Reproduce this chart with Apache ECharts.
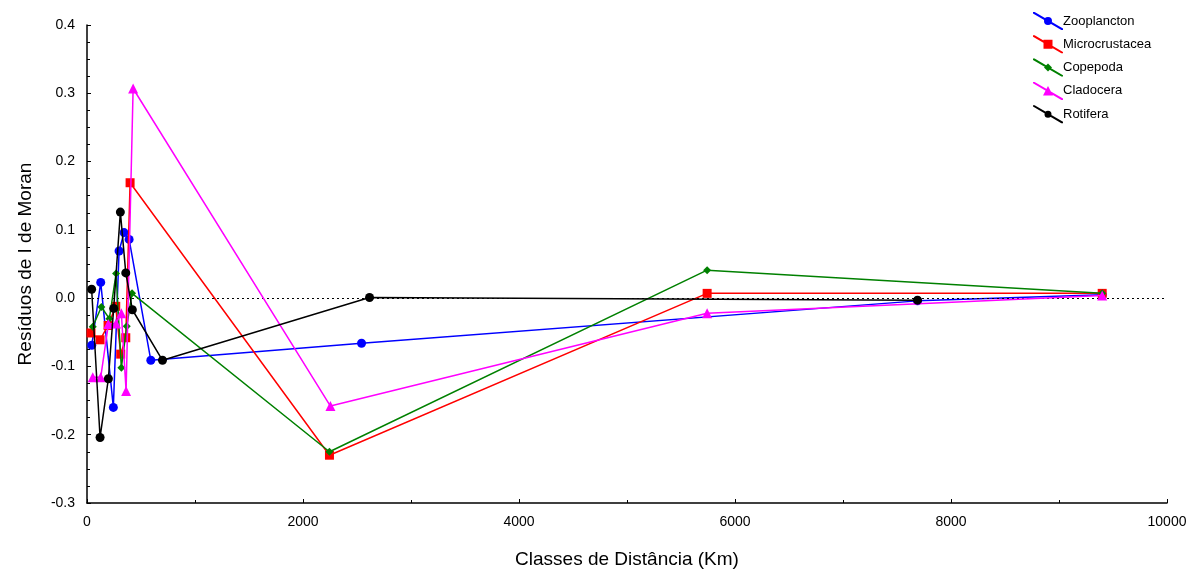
<!DOCTYPE html>
<html>
<head>
<meta charset="utf-8">
<script src="https://cdn.jsdelivr.net/npm/echarts@6/dist/echarts.min.js"></script>
<style>
html,body{margin:0;padding:0;background:#fff;}
#c{width:1197px;height:569px;}
</style>
</head>
<body>
<div id="c"></div>
<script>
// Distance classes (Km) and Moran's I residuals per group
const zooX = [44, 127, 244, 297, 343, 390, 591, 2542, 7690, 9400];
const zooY = [-0.069, 0.023, -0.160, 0.069, 0.096, 0.086, -0.091, -0.066, -0.004, 0.005];

const micX = [37, 121, 195, 266, 312, 359, 399, 2245, 5742, 9400];
const micY = [-0.051, -0.061, -0.040, -0.012, -0.082, -0.058, 0.169, -0.230, 0.007, 0.007];

const copX = [53, 133, 207, 269, 318, 368, 417, 2245, 5742, 9400];
const copY = [-0.042, -0.013, -0.030, 0.036, -0.102, -0.041, 0.007, -0.225, 0.041, 0.007];

const claX = [53, 127, 198, 269, 318, 362, 427, 2254, 5742, 9400];
const claY = [-0.116, -0.116, -0.038, -0.037, -0.022, -0.136, 0.307, -0.158, -0.022, 0.004];

const rotX = [43, 121, 198, 247, 309, 359, 420, 699, 2616, 7690];
const rotY = [0.013, -0.204, -0.118, -0.015, 0.126, 0.037, -0.017, -0.091, 0.001, -0.003];

const seriesNames = ['Zooplancton', 'Microcrustacea', 'Copepoda', 'Cladocera', 'Rotifera'];
const seriesColors = ['#0000FF', '#FF0000', '#008000', '#FF00FF', '#000000'];
const xTitle = 'Classes de Distância (Km)';
const yTitle = 'Resíduos de I de Moran';

const pair = (xs, ys) => xs.map((x, i) => [x, ys[i]]);

const band = 'M0,0 L1.6,0 L30,16.6 L30,18 L28.4,18 L0,1.4 Z ';
const icons = [
  'path://' + band + 'M19,9 A4,4 0 1 1 11,9 A4,4 0 1 1 19,9 Z',
  'path://' + band + 'M10.5,4.5 L19.5,4.5 L19.5,13.5 L10.5,13.5 Z',
  'path://' + band + 'M15,5 L19,9 L15,13 L11,9 Z',
  'path://' + band + 'M15,4 L20,13.5 L10,13.5 Z',
  'path://' + band + 'M18.5,9 A3.5,3.5 0 1 1 11.5,9 A3.5,3.5 0 1 1 18.5,9 Z'
];

const dataSets = [pair(zooX, zooY), pair(micX, micY), pair(copX, copY), pair(claX, claY), pair(rotX, rotY)];
const symbols = ['circle', 'rect', 'diamond', 'triangle', 'circle'];
const symbolSizes = [9, 9, 8, 10, 9];

const series = dataSets.map((d, i) => ({
  name: seriesNames[i],
  type: 'line',
  data: d,
  symbol: symbols[i],
  symbolSize: symbolSizes[i],
  showAllSymbol: true,
  lineStyle: { color: seriesColors[i], width: 1.5 },
  itemStyle: { color: seriesColors[i] },
  emphasis: { disabled: true },
  animation: false,
  z: 3 + i
}));

series.push({
  type: 'line',
  data: [],
  silent: true,
  markLine: {
    silent: true,
    symbol: ['none', 'none'],
    label: { show: false },
    lineStyle: { color: '#000', type: [2, 3], width: 1.2 },
    data: [{ yAxis: 0 }],
    animation: false
  }
});

const chart = echarts.init(document.getElementById('c'), null, { renderer: 'canvas' });
chart.setOption({
  animation: false,
  backgroundColor: '#fff',
  textStyle: { fontFamily: 'Liberation Sans, Arial, sans-serif' },
  grid: { left: 87, right: 30, top: 25, bottom: 66, containLabel: false, outerBoundsMode: 'none' },
  legend: {
    orient: 'vertical',
    left: 1028,
    top: 7,
    itemWidth: 30,
    itemHeight: 18,
    itemGap: 5.3,
    textStyle: { fontSize: 13, color: '#000', fontFamily: 'Liberation Sans, Arial, sans-serif', padding: [0, 0, 0, -5] },
    data: seriesNames.map((n, i) => ({ name: n, icon: icons[i] }))
  },
  xAxis: {
    type: 'value',
    min: 0,
    max: 10000,
    interval: 2000,
    name: xTitle,
    nameLocation: 'middle',
    nameGap: 47,
    nameTextStyle: { fontSize: 19, color: '#000' },
    axisLine: { show: true, onZero: false, lineStyle: { color: '#000', width: 1.5 } },
    axisTick: { show: true, inside: true, length: 4, lineStyle: { color: '#000' } },
    minorTick: { show: true, splitNumber: 2, length: 3, lineStyle: { color: '#000' } },
    axisLabel: { fontSize: 14, color: '#000', margin: 12, formatter: v => String(v) },
    splitLine: { show: false }
  },
  yAxis: {
    type: 'value',
    min: -0.3,
    max: 0.4,
    interval: 0.1,
    name: yTitle,
    nameLocation: 'middle',
    nameGap: 52,
    nameTextStyle: { fontSize: 19, color: '#000' },
    axisLine: { show: true, onZero: false, lineStyle: { color: '#000', width: 1.5 } },
    axisTick: { show: true, inside: true, length: 4, lineStyle: { color: '#000' } },
    minorTick: { show: true, splitNumber: 4, length: 3, lineStyle: { color: '#000' } },
    axisLabel: { fontSize: 14, color: '#000', margin: 12, formatter: v => (Math.abs(v) < 1e-9 ? 0 : v).toFixed(1) },
    splitLine: { show: false }
  },
  series: series
});
</script>
</body>
</html>
